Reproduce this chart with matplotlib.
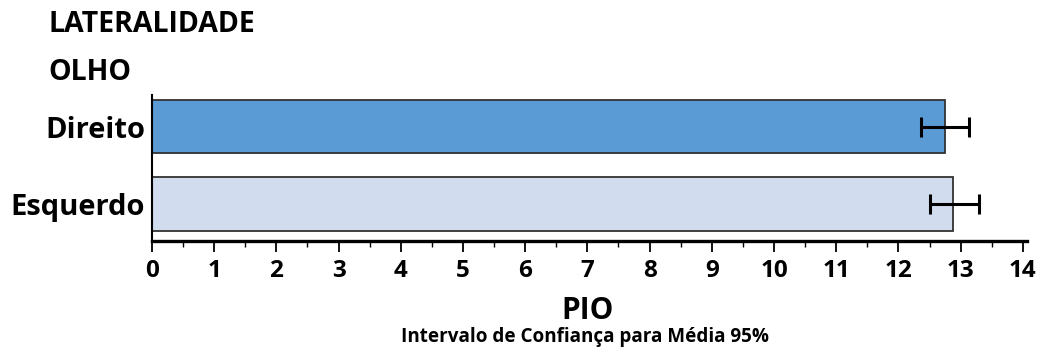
import matplotlib
matplotlib.use("Agg")
import matplotlib.pyplot as plt
from matplotlib.ticker import MultipleLocator

# Mean PIO by eye, with 95% confidence interval bounds
olho = ["Direito", "Esquerdo"]
media = [12.75, 12.88]
ic_inf = [12.37, 12.51]
ic_sup = [13.14, 13.29]
cores = ["#5B9BD5", "#D1DDEF"]

plt.rcParams['font.family'] = ['Open Sans', 'DejaVu Sans']

fig = plt.figure(figsize=(10.46, 3.53), dpi=100)
ax = fig.add_axes([0.1453, 0.317, 0.8361, 0.414])

ypos = list(range(len(olho)))
xerr = [[m - lo for m, lo in zip(media, ic_inf)],
        [hi - m for m, hi in zip(media, ic_sup)]]
ax.barh(ypos, media, height=0.69, color=cores, edgecolor="#333333", linewidth=1.3)
ax.errorbar(media, ypos, xerr=xerr, fmt="none", ecolor="black",
            elinewidth=2.2, capsize=7.5, capthick=2.2)

ax.set_ylim(1.48, -0.41)
ax.set_xlim(0, 14.06)
ax.set_yticks(ypos)
ax.set_yticklabels(olho, fontsize=21, fontweight="bold")
ax.tick_params(axis="y", length=0, pad=5)
ax.xaxis.set_minor_locator(MultipleLocator(0.5))
ax.set_xticks(range(0, 15))
ax.tick_params(axis="x", which="major", length=8, width=1.3, labelsize=17.5, pad=5)
ax.tick_params(axis="x", which="minor", length=4, width=1.0)
for lbl in ax.get_xticklabels():
    lbl.set_fontweight("bold")

for side in ["top", "right"]:
    ax.spines[side].set_visible(False)
ax.spines["bottom"].set_linewidth(2.4)
ax.spines["left"].set_linewidth(1.5)

fig.text(0.046, 0.93, "LATERALIDADE", fontsize=20.5, fontweight="bold", va="center")
fig.text(0.046, 0.795, "OLHO", fontsize=20.5, fontweight="bold", va="center")
fig.text(0.562, 0.118, "PIO", fontsize=21.5, fontweight="bold", ha="center", va="center")
fig.text(0.559, 0.045, "Intervalo de Confiança para Média 95%", fontsize=13.6,
         fontweight="bold", ha="center", va="center")

fig.savefig("out.png", dpi=100)
